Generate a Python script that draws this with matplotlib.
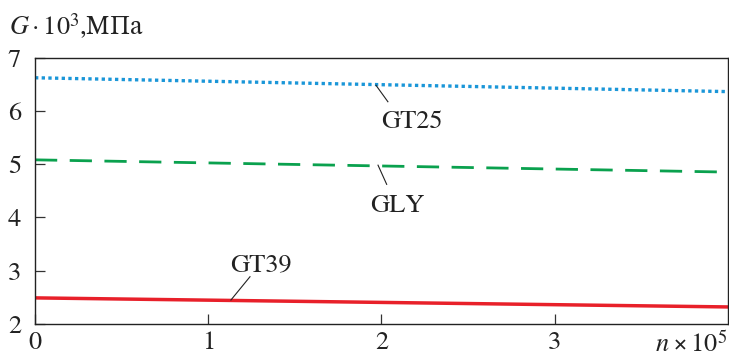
import numpy as np
import matplotlib
matplotlib.use('Agg')
import matplotlib.pyplot as plt

plt.rcParams['font.family'] = ['TeX Gyre Termes', 'STIX Two Text', 'DejaVu Serif']
plt.rcParams['mathtext.fontset'] = 'custom'
plt.rcParams['mathtext.rm'] = 'TeX Gyre Termes'
plt.rcParams['mathtext.it'] = 'TeX Gyre Termes:italic'

# Data (n x 10^5, G x 10^3 MPa)
n_vals = [0, 4]
gt25 = [6.62, 6.36]
gly = [5.08, 4.85]
gt39 = [2.49, 2.32]

x_ticks = [0, 1, 2, 3]
y_ticks = [2, 3, 4, 5, 6, 7]

fig = plt.figure(figsize=(7.29, 3.59), dpi=100)
ax = fig.add_axes([0.048, 0.0975, 0.9506, 0.7423])

ax.plot(n_vals, gt25, color='#1a96d8', lw=2.4, linestyle=(0, (1, 1)))
ax.plot(n_vals, gly, color='#0aa14e', lw=2.0, linestyle=(0, (8, 4.5)))
ax.plot(n_vals, gt39, color='#e8202a', lw=2.5)

ax.set_xlim(0, 4)
ax.set_ylim(2, 7)
ax.set_xticks(x_ticks)
ax.set_yticks(y_ticks)
ax.tick_params(direction='in', length=7, width=0.9, labelsize=19, colors='#333333',
               labelcolor='#222222')
ax.tick_params(axis='x', pad=5)
ax.tick_params(axis='y', pad=10)
for s in ax.spines.values():
    s.set_linewidth(1.0)
    s.set_color('#222222')

# curve labels with leader lines
lbl = dict(fontsize=19, color='#222222', ha='center', va='baseline')
ax.text(2.173, 5.677, 'GT25', **lbl)
ax.plot([1.968, 2.037], [6.48, 6.17], color='#222222', lw=0.8)
ax.text(2.092, 4.10, 'GLY', **lbl)
ax.plot([1.98, 2.03], [4.98, 4.62], color='#222222', lw=0.8)
ax.text(1.307, 2.98, 'GT39', **lbl)
ax.plot([1.241, 1.131], [2.887, 2.45], color='#222222', lw=0.8)

# y-axis caption: math part in Termes, Cyrillic units in STIX Two Text
fig.text(0.013, 0.905, r'$G\cdot10^3$,МПа', fontsize=19, color='#222222',
         family='STIX Two Text', ha='left', va='baseline')
fig.text(0.998, 0.018, r'$n\times10^5$', fontsize=19, color='#222222',
         ha='right', va='baseline')

fig.savefig('out.png', dpi=100)
